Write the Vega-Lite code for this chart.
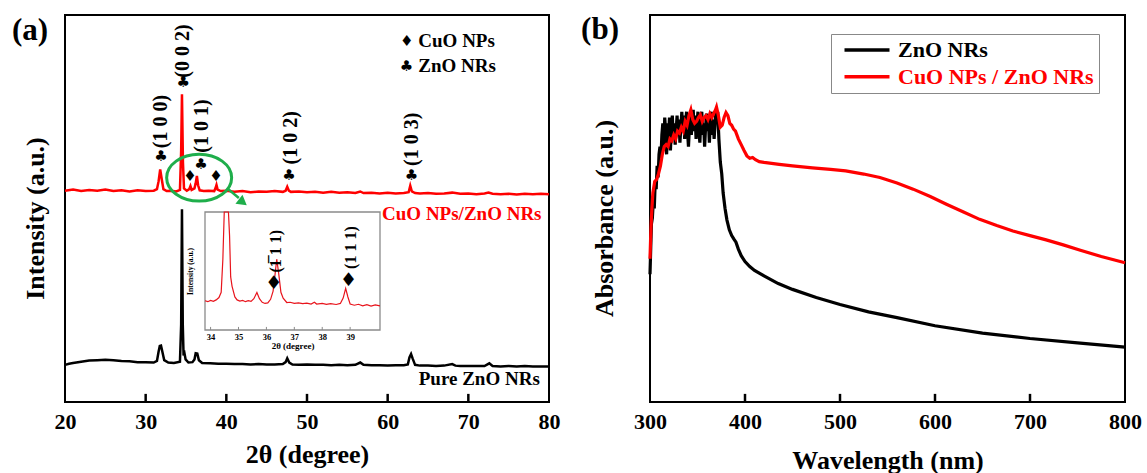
{
  "$schema": "https://vega.github.io/schema/vega-lite/v6.json",
  "padding": {"left": 10, "top": 13, "right": 5, "bottom": 0},
  "background": "white",
  "spacing": 101,
  "bounds": "flush",
  "resolve": {"scale": {"color": "independent"}, "legend": {"color": "independent"}},
  "config": {
    "view": {"stroke": "#000000", "strokeWidth": 2},
    "axis": {"domain": false, "grid": false, "ticks": false, "labelFont": "Liberation Serif", "labelFontSize": 22, "labelFontWeight": "bold", "labelColor": "#000000", "titleFont": "Liberation Serif", "titleFontSize": 26, "titleFontWeight": "bold", "titleColor": "#000000"},
    "text": {"font": "Liberation Serif", "fontWeight": "bold"}
  },
  "datasets": {
    "xrdCu": [
      {"t":20,"I":54.6},{"t":21,"I":54.9},{"t":22,"I":54.5},{"t":23,"I":54.8},{"t":24,"I":54.6},{"t":25,"I":54.9},{"t":26,"I":54.5},{"t":27,"I":54.7},{"t":28,"I":54.4},{"t":29,"I":54.7},{"t":30,"I":54.5},{"t":31,"I":54.6},{"t":31.4,"I":55.0},{"t":31.6,"I":57.0},{"t":31.8,"I":60.1},{"t":32.0,"I":57.5},{"t":32.2,"I":55.0},{"t":32.6,"I":54.5},{"t":33.2,"I":54.6},{"t":33.8,"I":54.4},{"t":34.25,"I":54.8},{"t":34.4,"I":65},{"t":34.5,"I":79.5},{"t":34.62,"I":62},{"t":34.75,"I":55.2},{"t":35.1,"I":54.6},{"t":35.4,"I":55.0},{"t":35.55,"I":55.8},{"t":35.7,"I":54.8},{"t":36.05,"I":55.2},{"t":36.2,"I":56.5},{"t":36.35,"I":58.4},{"t":36.5,"I":56.0},{"t":36.7,"I":54.7},{"t":37.2,"I":54.5},{"t":37.8,"I":54.6},{"t":38.5,"I":54.5},{"t":38.65,"I":55.2},{"t":38.78,"I":56.1},{"t":38.92,"I":54.9},{"t":39.3,"I":54.5},{"t":40,"I":54.6},{"t":41,"I":54.3},{"t":42,"I":54.5},{"t":43,"I":54.2},{"t":44,"I":54.4},{"t":45,"I":54.3},{"t":46,"I":54.5},{"t":47,"I":54.3},{"t":47.35,"I":54.6},{"t":47.55,"I":55.6},{"t":47.75,"I":54.6},{"t":48,"I":54.3},{"t":49,"I":54.4},{"t":50,"I":54.2},{"t":51,"I":54.3},{"t":52,"I":54.1},{"t":53,"I":54.3},{"t":54,"I":54.1},{"t":55,"I":54.2},{"t":56,"I":54.0},{"t":56.6,"I":54.4},{"t":57,"I":54.0},{"t":58,"I":54.1},{"t":59,"I":53.9},{"t":60,"I":54.1},{"t":61,"I":53.9},{"t":62,"I":54.0},{"t":62.6,"I":54.2},{"t":62.8,"I":55.9},{"t":63.0,"I":54.4},{"t":63.4,"I":54.0},{"t":64,"I":53.9},{"t":65,"I":54.0},{"t":66,"I":53.8},{"t":67,"I":53.9},{"t":68,"I":54.1},{"t":69,"I":53.8},{"t":70,"I":53.9},{"t":71,"I":53.7},{"t":72,"I":53.9},{"t":72.5,"I":54.1},{"t":73,"I":53.8},{"t":74,"I":53.7},{"t":75,"I":53.8},{"t":76,"I":53.6},{"t":77,"I":53.8},{"t":78,"I":53.7},{"t":79,"I":53.8},{"t":80,"I":53.7}
    ],
    "xrdZn": [
      {"t":20,"I":9.6},{"t":20.5,"I":9.9},{"t":21,"I":10.1},{"t":22,"I":10.4},{"t":23,"I":10.7},{"t":24,"I":10.8},{"t":25,"I":10.9},{"t":26,"I":10.8},{"t":27,"I":10.6},{"t":28,"I":10.5},{"t":29,"I":10.3},{"t":30,"I":10.3},{"t":31,"I":10.2},{"t":31.4,"I":10.6},{"t":31.6,"I":13.0},{"t":31.75,"I":14.5},{"t":31.9,"I":14.6},{"t":32.05,"I":13.2},{"t":32.3,"I":10.8},{"t":32.8,"I":10.2},{"t":33.5,"I":10.1},{"t":34.25,"I":10.4},{"t":34.4,"I":20},{"t":34.5,"I":49.8},{"t":34.6,"I":20},{"t":34.7,"I":12.0},{"t":34.82,"I":12.5},{"t":34.95,"I":11.0},{"t":35.3,"I":10.2},{"t":35.8,"I":10.3},{"t":36.05,"I":11},{"t":36.2,"I":12.6},{"t":36.4,"I":12.5},{"t":36.6,"I":10.8},{"t":37,"I":10.1},{"t":38,"I":10.0},{"t":39,"I":9.9},{"t":40,"I":9.9},{"t":41,"I":9.8},{"t":42,"I":9.8},{"t":43,"I":9.7},{"t":44,"I":9.8},{"t":45,"I":9.7},{"t":46,"I":9.7},{"t":47,"I":9.8},{"t":47.35,"I":10.3},{"t":47.55,"I":11.3},{"t":47.8,"I":10.2},{"t":48.2,"I":9.7},{"t":49,"I":9.6},{"t":50,"I":9.7},{"t":51,"I":9.6},{"t":52,"I":9.6},{"t":53,"I":9.5},{"t":54,"I":9.6},{"t":55,"I":9.5},{"t":56,"I":9.6},{"t":56.6,"I":10.2},{"t":57,"I":9.6},{"t":58,"I":9.5},{"t":59,"I":9.5},{"t":60,"I":9.4},{"t":61,"I":9.5},{"t":62,"I":9.5},{"t":62.5,"I":9.7},{"t":62.7,"I":11.5},{"t":62.9,"I":12.4},{"t":63.1,"I":11.2},{"t":63.4,"I":9.6},{"t":64,"I":9.4},{"t":65,"I":9.4},{"t":66,"I":9.3},{"t":67,"I":9.4},{"t":68,"I":9.8},{"t":68.4,"I":9.4},{"t":69,"I":9.3},{"t":70,"I":9.3},{"t":71,"I":9.3},{"t":72,"I":9.3},{"t":72.6,"I":10.0},{"t":73,"I":9.3},{"t":74,"I":9.2},{"t":75,"I":9.3},{"t":76,"I":9.2},{"t":77,"I":9.3},{"t":78,"I":9.2},{"t":79,"I":9.2},{"t":80,"I":9.2}
    ],
    "inset": [
      {"t":33.8,"I":24.8},{"t":33.9,"I":24.0},{"t":34.0,"I":25.0},{"t":34.1,"I":24.3},{"t":34.2,"I":25.5},{"t":34.3,"I":27.5},{"t":34.38,"I":32},{"t":34.44,"I":60},{"t":34.49,"I":100},{"t":34.64,"I":100},{"t":34.68,"I":80},{"t":34.72,"I":45},{"t":34.77,"I":37},{"t":34.87,"I":28},{"t":34.95,"I":25.5},{"t":35.05,"I":24.5},{"t":35.15,"I":25},{"t":35.25,"I":24},{"t":35.35,"I":24.8},{"t":35.45,"I":24.2},{"t":35.55,"I":26.5},{"t":35.66,"I":31.8},{"t":35.75,"I":26.5},{"t":35.85,"I":23.5},{"t":35.95,"I":22.5},{"t":36.05,"I":23.0},{"t":36.15,"I":26},{"t":36.24,"I":33},{"t":36.3,"I":45},{"t":36.37,"I":60},{"t":36.44,"I":48},{"t":36.52,"I":32},{"t":36.6,"I":27},{"t":36.73,"I":23.3},{"t":36.85,"I":23.5},{"t":37.0,"I":22.5},{"t":37.15,"I":23.0},{"t":37.3,"I":22.3},{"t":37.45,"I":22.8},{"t":37.6,"I":22.0},{"t":37.72,"I":23.5},{"t":37.8,"I":22.0},{"t":38.0,"I":22.5},{"t":38.15,"I":21.8},{"t":38.3,"I":22.4},{"t":38.5,"I":21.6},{"t":38.65,"I":22.5},{"t":38.75,"I":27},{"t":38.84,"I":35.2},{"t":38.92,"I":28},{"t":39.0,"I":22.0},{"t":39.15,"I":21.0},{"t":39.3,"I":21.8},{"t":39.45,"I":20.5},{"t":39.6,"I":21.5},{"t":39.75,"I":20.3},{"t":39.9,"I":21.2},{"t":40.07,"I":20.5}
    ],
    "abs": [
      {"s":"ZnO NRs","w":300,"A":33},{"s":"ZnO NRs","w":300.8,"A":40},{"s":"ZnO NRs","w":301.5,"A":46},{"s":"ZnO NRs","w":302.5,"A":47.6},{"s":"ZnO NRs","w":303.5,"A":52},{"s":"ZnO NRs","w":304.5,"A":50},{"s":"ZnO NRs","w":305.5,"A":57},{"s":"ZnO NRs","w":306.5,"A":55},{"s":"ZnO NRs","w":307.5,"A":61},{"s":"ZnO NRs","w":308.5,"A":58},{"s":"ZnO NRs","w":309.5,"A":64},{"s":"ZnO NRs","w":310.5,"A":66},{"s":"ZnO NRs","w":311.5,"A":63},{"s":"ZnO NRs","w":312.5,"A":69},{"s":"ZnO NRs","w":313.5,"A":72},{"s":"ZnO NRs","w":314.5,"A":65},{"s":"ZnO NRs","w":315.5,"A":73.5},{"s":"ZnO NRs","w":316.5,"A":70},{"s":"ZnO NRs","w":317.5,"A":64},{"s":"ZnO NRs","w":318.5,"A":72},{"s":"ZnO NRs","w":319.5,"A":68},{"s":"ZnO NRs","w":320.5,"A":73.5},{"s":"ZnO NRs","w":321.5,"A":65},{"s":"ZnO NRs","w":322.5,"A":71},{"s":"ZnO NRs","w":323.5,"A":74},{"s":"ZnO NRs","w":324.5,"A":68},{"s":"ZnO NRs","w":325.5,"A":72},{"s":"ZnO NRs","w":326.5,"A":66.5},{"s":"ZnO NRs","w":327.5,"A":70},{"s":"ZnO NRs","w":328.5,"A":74},{"s":"ZnO NRs","w":329.5,"A":69},{"s":"ZnO NRs","w":330.5,"A":73},{"s":"ZnO NRs","w":331.5,"A":67},{"s":"ZnO NRs","w":332.5,"A":71},{"s":"ZnO NRs","w":333.5,"A":75},{"s":"ZnO NRs","w":334.5,"A":70},{"s":"ZnO NRs","w":335.5,"A":74},{"s":"ZnO NRs","w":336.5,"A":68},{"s":"ZnO NRs","w":337.5,"A":72},{"s":"ZnO NRs","w":338.5,"A":75},{"s":"ZnO NRs","w":339.5,"A":70},{"s":"ZnO NRs","w":340.5,"A":66},{"s":"ZnO NRs","w":341.5,"A":71},{"s":"ZnO NRs","w":342.5,"A":74.5},{"s":"ZnO NRs","w":343.5,"A":69},{"s":"ZnO NRs","w":344.5,"A":73},{"s":"ZnO NRs","w":345.5,"A":75.5},{"s":"ZnO NRs","w":346.5,"A":70},{"s":"ZnO NRs","w":347.5,"A":74},{"s":"ZnO NRs","w":348.5,"A":68},{"s":"ZnO NRs","w":349.5,"A":72},{"s":"ZnO NRs","w":350.5,"A":75},{"s":"ZnO NRs","w":351.5,"A":70},{"s":"ZnO NRs","w":352.5,"A":67},{"s":"ZnO NRs","w":353.5,"A":73},{"s":"ZnO NRs","w":354.5,"A":75},{"s":"ZnO NRs","w":355.5,"A":69},{"s":"ZnO NRs","w":356.5,"A":72},{"s":"ZnO NRs","w":357.5,"A":66},{"s":"ZnO NRs","w":358.5,"A":71},{"s":"ZnO NRs","w":359.5,"A":74.5},{"s":"ZnO NRs","w":360.5,"A":70},{"s":"ZnO NRs","w":361.5,"A":73},{"s":"ZnO NRs","w":362.5,"A":67},{"s":"ZnO NRs","w":363.5,"A":72},{"s":"ZnO NRs","w":364.5,"A":75},{"s":"ZnO NRs","w":365.5,"A":69},{"s":"ZnO NRs","w":366.5,"A":73},{"s":"ZnO NRs","w":367.5,"A":68},{"s":"ZnO NRs","w":368.5,"A":72},{"s":"ZnO NRs","w":369.5,"A":75},{"s":"ZnO NRs","w":370.5,"A":73.5},{"s":"ZnO NRs","w":371.3,"A":75},{"s":"ZnO NRs","w":372.5,"A":68},{"s":"ZnO NRs","w":374,"A":62},{"s":"ZnO NRs","w":375.5,"A":59},{"s":"ZnO NRs","w":377,"A":54},{"s":"ZnO NRs","w":379,"A":50},{"s":"ZnO NRs","w":381,"A":47},{"s":"ZnO NRs","w":383.5,"A":44.5},{"s":"ZnO NRs","w":386,"A":43},{"s":"ZnO NRs","w":388.5,"A":42},{"s":"ZnO NRs","w":390.5,"A":41.3},{"s":"ZnO NRs","w":393,"A":39.5},{"s":"ZnO NRs","w":396,"A":37.8},{"s":"ZnO NRs","w":400,"A":36.3},{"s":"ZnO NRs","w":405,"A":35},{"s":"ZnO NRs","w":410,"A":34},{"s":"ZnO NRs","w":420,"A":32.6},{"s":"ZnO NRs","w":435,"A":30.6},{"s":"ZnO NRs","w":450,"A":29.1},{"s":"ZnO NRs","w":475,"A":27},{"s":"ZnO NRs","w":500,"A":25.2},{"s":"ZnO NRs","w":530,"A":23.3},{"s":"ZnO NRs","w":560,"A":21.8},{"s":"ZnO NRs","w":600,"A":19.7},{"s":"ZnO NRs","w":650,"A":17.8},{"s":"ZnO NRs","w":700,"A":16.4},{"s":"ZnO NRs","w":750,"A":15.3},{"s":"ZnO NRs","w":800,"A":14.2},
      {"s":"CuO NPs / ZnO NRs","w":300,"A":37},{"s":"CuO NPs / ZnO NRs","w":301,"A":45},{"s":"CuO NPs / ZnO NRs","w":302,"A":50},{"s":"CuO NPs / ZnO NRs","w":303,"A":54},{"s":"CuO NPs / ZnO NRs","w":305,"A":57},{"s":"CuO NPs / ZnO NRs","w":307,"A":57.5},{"s":"CuO NPs / ZnO NRs","w":309,"A":59},{"s":"CuO NPs / ZnO NRs","w":311,"A":61},{"s":"CuO NPs / ZnO NRs","w":313,"A":64},{"s":"CuO NPs / ZnO NRs","w":315,"A":66},{"s":"CuO NPs / ZnO NRs","w":317,"A":66.5},{"s":"CuO NPs / ZnO NRs","w":319,"A":66},{"s":"CuO NPs / ZnO NRs","w":321,"A":68},{"s":"CuO NPs / ZnO NRs","w":323,"A":67.5},{"s":"CuO NPs / ZnO NRs","w":325,"A":69},{"s":"CuO NPs / ZnO NRs","w":327,"A":68},{"s":"CuO NPs / ZnO NRs","w":329,"A":70},{"s":"CuO NPs / ZnO NRs","w":331,"A":69.5},{"s":"CuO NPs / ZnO NRs","w":333,"A":71},{"s":"CuO NPs / ZnO NRs","w":335,"A":70},{"s":"CuO NPs / ZnO NRs","w":337,"A":72.5},{"s":"CuO NPs / ZnO NRs","w":339,"A":71.5},{"s":"CuO NPs / ZnO NRs","w":341,"A":74},{"s":"CuO NPs / ZnO NRs","w":343,"A":75.5},{"s":"CuO NPs / ZnO NRs","w":345,"A":73},{"s":"CuO NPs / ZnO NRs","w":347,"A":72},{"s":"CuO NPs / ZnO NRs","w":349,"A":72.5},{"s":"CuO NPs / ZnO NRs","w":351,"A":73.5},{"s":"CuO NPs / ZnO NRs","w":353,"A":74.2},{"s":"CuO NPs / ZnO NRs","w":355,"A":72.5},{"s":"CuO NPs / ZnO NRs","w":357,"A":73.5},{"s":"CuO NPs / ZnO NRs","w":359,"A":74},{"s":"CuO NPs / ZnO NRs","w":361,"A":73},{"s":"CuO NPs / ZnO NRs","w":363,"A":74.5},{"s":"CuO NPs / ZnO NRs","w":365,"A":73.5},{"s":"CuO NPs / ZnO NRs","w":367,"A":74.5},{"s":"CuO NPs / ZnO NRs","w":369,"A":75.5},{"s":"CuO NPs / ZnO NRs","w":370,"A":76.2},{"s":"CuO NPs / ZnO NRs","w":372,"A":74},{"s":"CuO NPs / ZnO NRs","w":374,"A":71},{"s":"CuO NPs / ZnO NRs","w":376,"A":71.5},{"s":"CuO NPs / ZnO NRs","w":378,"A":73.5},{"s":"CuO NPs / ZnO NRs","w":380,"A":74.8},{"s":"CuO NPs / ZnO NRs","w":382,"A":74},{"s":"CuO NPs / ZnO NRs","w":384,"A":72},{"s":"CuO NPs / ZnO NRs","w":386,"A":71.5},{"s":"CuO NPs / ZnO NRs","w":388,"A":70.5},{"s":"CuO NPs / ZnO NRs","w":390,"A":70},{"s":"CuO NPs / ZnO NRs","w":393,"A":68},{"s":"CuO NPs / ZnO NRs","w":396,"A":66.5},{"s":"CuO NPs / ZnO NRs","w":399,"A":65},{"s":"CuO NPs / ZnO NRs","w":402,"A":63.6},{"s":"CuO NPs / ZnO NRs","w":405,"A":63},{"s":"CuO NPs / ZnO NRs","w":408,"A":63.2},{"s":"CuO NPs / ZnO NRs","w":411,"A":62.6},{"s":"CuO NPs / ZnO NRs","w":415,"A":62.1},{"s":"CuO NPs / ZnO NRs","w":420,"A":61.9},{"s":"CuO NPs / ZnO NRs","w":430,"A":61.6},{"s":"CuO NPs / ZnO NRs","w":436,"A":61.4},{"s":"CuO NPs / ZnO NRs","w":450,"A":61},{"s":"CuO NPs / ZnO NRs","w":471,"A":60.5},{"s":"CuO NPs / ZnO NRs","w":490,"A":60.1},{"s":"CuO NPs / ZnO NRs","w":506,"A":59.7},{"s":"CuO NPs / ZnO NRs","w":525,"A":58.9},{"s":"CuO NPs / ZnO NRs","w":542,"A":58},{"s":"CuO NPs / ZnO NRs","w":560,"A":56.6},{"s":"CuO NPs / ZnO NRs","w":577,"A":55},{"s":"CuO NPs / ZnO NRs","w":595,"A":53.1},{"s":"CuO NPs / ZnO NRs","w":612,"A":51.1},{"s":"CuO NPs / ZnO NRs","w":630,"A":49.1},{"s":"CuO NPs / ZnO NRs","w":647,"A":47.2},{"s":"CuO NPs / ZnO NRs","w":665,"A":45.6},{"s":"CuO NPs / ZnO NRs","w":682,"A":44.2},{"s":"CuO NPs / ZnO NRs","w":700,"A":43},{"s":"CuO NPs / ZnO NRs","w":717,"A":41.9},{"s":"CuO NPs / ZnO NRs","w":735,"A":40.6},{"s":"CuO NPs / ZnO NRs","w":753,"A":39.2},{"s":"CuO NPs / ZnO NRs","w":775,"A":37.6},{"s":"CuO NPs / ZnO NRs","w":800,"A":36}
    ],
    "peakLabels": [
      {"t":31.9,"I":65.6,"label":"(1 0 0)"},
      {"t":34.67,"I":83.8,"label":"(0 0 2)"},
      {"t":36.94,"I":64.4,"label":"(1 0 1)"},
      {"t":48.0,"I":61.4,"label":"(1 0 2)"},
      {"t":63.05,"I":61.0,"label":"(1 0 3)"}
    ],
    "peakSymbols": [
      {"t":31.9,"I":63.6,"sym":"♣"},
      {"t":34.67,"I":82.7,"sym":"♣"},
      {"t":36.85,"I":61.6,"sym":"♣"},
      {"t":47.76,"I":58.7,"sym":"♣"},
      {"t":62.96,"I":58.7,"sym":"♣"},
      {"t":35.49,"I":58.4,"sym":"♦"},
      {"t":38.71,"I":58.4,"sym":"♦"},
      {"t":62.35,"I":93.3,"sym":"♦"},
      {"t":62.33,"I":86.8,"sym":"♣"}
    ],
    "keyText": [
      {"t":63.8,"I":93.3,"label":"CuO NPs"},
      {"t":63.8,"I":86.8,"label":"ZnO NRs"}
    ],
    "insetLabels": [
      {"t":36.35,"I":48.7,"label":"(1̅ 1 1)"},
      {"t":39.02,"I":51.8,"label":"(1 1 1)"}
    ],
    "insetDiamonds": [
      {"t":36.26,"I":39.7},
      {"t":38.94,"I":42.5}
    ],
    "ticksA": [{"t":30},{"t":40},{"t":50},{"t":60},{"t":70}],
    "ticksInset": [{"t":34},{"t":35},{"t":36},{"t":37},{"t":38},{"t":39}],
    "ticksB": [{"w":400},{"w":500},{"w":600},{"w":700}]
  },
  "hconcat": [
    {
      "width": 484,
      "height": 387,
      "layer": [
        {
          "layer": [
            {
              "data": {"name": "xrdZn"},
              "mark": {"type": "line", "color": "#000000", "strokeWidth": 2.5},
              "encoding": {
                "x": {"field": "t", "type": "quantitative", "scale": {"domain": [20, 80], "nice": false, "zero": false}, "axis": {"title": "2θ (degree)", "values": [20, 30, 40, 50, 60, 70, 80], "labelFlush": false, "labelOverlap": false, "labelPadding": 9, "titlePadding": 9}},
                "y": {"field": "I", "type": "quantitative", "scale": {"domain": [0, 100], "nice": false, "zero": false}, "axis": {"title": "Intensity (a.u.)", "labels": false, "titlePadding": 17, "titleY": 203}}
              }
            },
            {
              "data": {"name": "xrdCu"},
              "mark": {"type": "line", "color": "#ff0000", "strokeWidth": 2.5},
              "encoding": {
                "x": {"field": "t", "type": "quantitative"},
                "y": {"field": "I", "type": "quantitative"}
              }
            },
            {
              "data": {"name": "ticksA"},
              "mark": {"type": "rule", "color": "#000000", "strokeWidth": 2.5},
              "encoding": {
                "x": {"field": "t", "type": "quantitative"},
                "y": {"datum": 0, "type": "quantitative"},
                "y2": {"datum": 2.1}
              }
            },
            {
              "data": {"name": "peakLabels"},
              "mark": {"type": "text", "angle": 270, "align": "left", "baseline": "middle", "fontSize": 20, "color": "#000000"},
              "encoding": {
                "x": {"field": "t", "type": "quantitative"},
                "y": {"field": "I", "type": "quantitative"},
                "text": {"field": "label"}
              }
            },
            {
              "data": {"name": "peakSymbols"},
              "mark": {"type": "text", "align": "center", "baseline": "middle", "fontSize": 15, "font": "DejaVu Sans", "fontWeight": "normal", "color": "#000000"},
              "encoding": {
                "x": {"field": "t", "type": "quantitative"},
                "y": {"field": "I", "type": "quantitative"},
                "text": {"field": "sym"}
              }
            },
            {
              "data": {"name": "keyText"},
              "mark": {"type": "text", "align": "left", "baseline": "middle", "fontSize": 19, "color": "#000000"},
              "encoding": {
                "x": {"field": "t", "type": "quantitative"},
                "y": {"field": "I", "type": "quantitative"},
                "text": {"field": "label"}
              }
            },
            {
              "data": {"values": [{"t": 79.07, "I": 48.5, "label": "CuO NPs/ZnO NRs"}]},
              "mark": {"type": "text", "align": "right", "baseline": "middle", "fontSize": 19, "color": "#ff0000"},
              "encoding": {
                "x": {"field": "t", "type": "quantitative"},
                "y": {"field": "I", "type": "quantitative"},
                "text": {"field": "label"}
              }
            },
            {
              "data": {"values": [{"t": 78.86, "I": 5.85, "label": "Pure ZnO NRs"}]},
              "mark": {"type": "text", "align": "right", "baseline": "middle", "fontSize": 19, "color": "#000000"},
              "encoding": {
                "x": {"field": "t", "type": "quantitative"},
                "y": {"field": "I", "type": "quantitative"},
                "text": {"field": "label"}
              }
            },
            {
              "data": {"values": [{"t": 36.63, "I": 57.96}]},
              "mark": {"type": "point", "shape": "M -1 0 A 1 0.72 0 1 1 1 0 A 1 0.72 0 1 1 -1 0 Z", "size": 4225, "filled": false, "stroke": "#1fae4b", "strokeWidth": 3, "opacity": 1},
              "encoding": {
                "x": {"field": "t", "type": "quantitative"},
                "y": {"field": "I", "type": "quantitative"}
              }
            },
            {
              "data": {"values": [{"t": 40.25, "I": 54.96, "t2": 41.55, "I2": 52.7}]},
              "mark": {"type": "rule", "stroke": "#1fae4b", "strokeWidth": 2.5},
              "encoding": {
                "x": {"field": "t", "type": "quantitative"},
                "y": {"field": "I", "type": "quantitative"},
                "x2": {"field": "t2"},
                "y2": {"field": "I2"}
              }
            },
            {
              "data": {"values": [{"t": 42.05, "I": 51.6}]},
              "mark": {"type": "point", "shape": "triangle-up", "size": 130, "filled": true, "fill": "#1fae4b", "angle": 128, "opacity": 1},
              "encoding": {
                "x": {"field": "t", "type": "quantitative"},
                "y": {"field": "I", "type": "quantitative"}
              }
            },
            {
              "data": {"values": [{}]},
              "mark": {"type": "text", "text": "(a)", "fontSize": 31, "align": "center", "baseline": "middle", "dx": -35, "dy": 16, "color": "#000000"},
              "encoding": {
                "x": {"datum": 20, "type": "quantitative"},
                "y": {"datum": 100, "type": "quantitative"}
              }
            }
          ]
        },
        {
          "layer": [
            {
              "data": {"values": [{"a": 33.8, "b": 40.07, "c": 0, "d": 100}]},
              "mark": {"type": "rect", "fillOpacity": 0, "fill": "#ffffff", "stroke": "#8a8a8a", "strokeWidth": 1.3},
              "encoding": {
                "x": {"field": "a", "type": "quantitative", "scale": {"domain": [33.8, 40.07], "range": [140, 315], "nice": false, "zero": false}, "axis": {"orient": "bottom", "offset": -72, "title": "2θ (degree)", "titleFontSize": 9, "titlePadding": 1, "labelFontSize": 8.5, "values": [34, 35, 36, 37, 38, 39], "format": "d", "labelPadding": 2, "labelFlush": false, "labelOverlap": false}},
                "x2": {"field": "b"},
                "y": {"field": "c", "type": "quantitative", "scale": {"domain": [0, 100], "range": [315, 197], "nice": false, "zero": false}, "axis": {"orient": "left", "offset": -140, "title": "Intensity (a.u.)", "titleFontSize": 7.5, "titlePadding": 11, "labels": false}},
                "y2": {"field": "d"}
              }
            },
            {
              "data": {"name": "ticksInset"},
              "mark": {"type": "rule", "color": "#8a8a8a", "strokeWidth": 1},
              "encoding": {
                "x": {"field": "t", "type": "quantitative"},
                "y": {"datum": 0, "type": "quantitative"},
                "y2": {"datum": 2.6}
              }
            },
            {
              "data": {"name": "inset"},
              "mark": {"type": "line", "color": "#e8141c", "strokeWidth": 1.2},
              "encoding": {
                "x": {"field": "t", "type": "quantitative"},
                "y": {"field": "I", "type": "quantitative"}
              }
            },
            {
              "data": {"name": "insetDiamonds"},
              "mark": {"type": "text", "text": "♦", "font": "DejaVu Sans", "fontWeight": "normal", "fontSize": 19, "align": "center", "baseline": "middle", "color": "#000000"},
              "encoding": {
                "x": {"field": "t", "type": "quantitative"},
                "y": {"field": "I", "type": "quantitative"}
              }
            },
            {
              "data": {"name": "insetLabels"},
              "mark": {"type": "text", "angle": 270, "align": "left", "baseline": "middle", "fontSize": 16, "color": "#000000"},
              "encoding": {
                "x": {"field": "t", "type": "quantitative"},
                "y": {"field": "I", "type": "quantitative"},
                "text": {"field": "label"}
              }
            }
          ]
        }
      ],
      "resolve": {"scale": {"x": "independent", "y": "independent"}, "axis": {"x": "independent", "y": "independent"}}
    },
    {
      "width": 475,
      "height": 387,
      "layer": [
        {
          "data": {"name": "abs"},
          "mark": {"type": "line", "strokeWidth": 3.2},
          "encoding": {
            "x": {"field": "w", "type": "quantitative", "scale": {"domain": [300, 800], "nice": false, "zero": false}, "axis": {"title": "Wavelength (nm)", "values": [300, 400, 500, 600, 700, 800], "labelFlush": false, "labelOverlap": false, "labelPadding": 9, "titlePadding": 15}},
            "y": {"field": "A", "type": "quantitative", "scale": {"domain": [0, 100], "nice": false, "zero": false}, "axis": {"title": "Absorbance (a.u.)", "labels": false, "titlePadding": 33, "titleY": 203}},
            "color": {"field": "s", "type": "nominal", "scale": {"domain": ["ZnO NRs", "CuO NPs / ZnO NRs"], "range": ["#000000", "#ff0000"]}, "legend": {"title": null, "orient": "none", "legendX": 181, "legendY": 19, "symbolType": "M -3 0 L 3 0", "symbolSize": 225, "symbolStrokeWidth": 3.5, "symbolOffset": 20, "labelFont": "Liberation Serif", "labelFontSize": 22, "labelFontWeight": "bold", "labelLimit": 400, "labelOffset": 20, "strokeColor": "#888888", "padding": 5, "rowPadding": 4.7, "encode": {"labels": {"update": {"fill": {"signal": "datum.value === 'ZnO NRs' ? '#000000' : '#ff0000'"}}}}}}
          }
        },
        {
          "data": {"name": "ticksB"},
          "mark": {"type": "rule", "color": "#000000", "strokeWidth": 2.5},
          "encoding": {
            "x": {"field": "w", "type": "quantitative"},
            "y": {"datum": 0, "type": "quantitative"},
            "y2": {"datum": 2.1}
          }
        },
        {
          "data": {"values": [{}]},
          "mark": {"type": "text", "text": "(b)", "fontSize": 31, "align": "center", "baseline": "middle", "dx": -50, "dy": 15, "color": "#000000"},
          "encoding": {
            "x": {"datum": 300, "type": "quantitative"},
            "y": {"datum": 100, "type": "quantitative"}
          }
        }
      ]
    }
  ]
}
